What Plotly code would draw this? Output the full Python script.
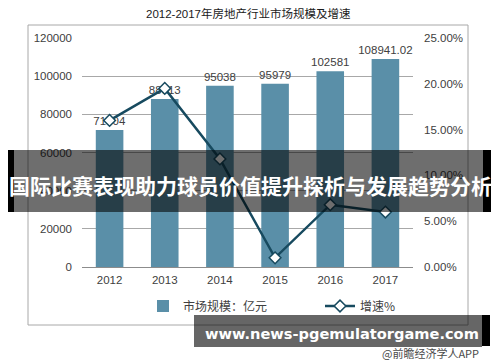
import plotly.graph_objects as go

# ---------------- data ----------------
years = ["2012", "2013", "2014", "2015", "2016", "2017"]
market_size = [71804, 88013, 95038, 95979, 102581, 108941.02]
market_labels = ["71804", "88013", "95038", "95979", "102581", "108941.02"]
growth_pct = [16.0, 19.5, 11.8, 1.0, 6.8, 6.0]
left_ticks = [0, 20000, 40000, 60000, 80000, 100000, 120000]
left_tick_labels = ["0", "20000", "40000", "60000", "80000", "100000", "120000"]
right_ticks = [0, 5, 10, 15, 20, 25]
right_tick_labels = ["0.00%", "5.00%", "10.00%", "15.00%", "20.00%", "25.00%"]

title_text = "2012-2017年房地产行业市场规模及增速"
bar_name = "市场规模：亿元"
line_name = "增速%"
banner_text = "国际比赛表现助力球员价值提升探析与发展趋势分析"
url_text = "www.news-pgemulatorgame.com"
source_text = "@前瞻经济学人APP"

# ---------------- geometry helpers ----------------
W, H = 500, 362
L, R, T, B = 82, 413, 38, 267  # plot area in pixels


def px(x):
    return (x - L) / (R - L)


def py(y):
    return (B - y) / (B - T)


FONT = "Liberation Sans, Arial, Noto Sans CJK SC, sans-serif"
TXT = "#404040"
BAR_C = "#5a8fa8"
LINE_C = "#174a5f"

fig = go.Figure()
fig.add_trace(go.Bar(
    x=years, y=market_size, name=bar_name,
    marker=dict(color=BAR_C, line=dict(width=0)),
    text=market_labels, textposition="outside",
    textfont=dict(size=11.5, color=TXT, family=FONT),
    constraintext="none",
    cliponaxis=False,
    legend="legend",
))
fig.add_trace(go.Scatter(
    x=years, y=growth_pct, name=line_name, yaxis="y2",
    mode="lines+markers",
    line=dict(color=LINE_C, width=2.5),
    marker=dict(symbol="diamond", size=9, color="white",
                line=dict(color=LINE_C, width=1.5)),
    cliponaxis=False,
    legend="legend2",
))

shapes = [
    # outer chart frame
    dict(type="rect", xref="paper", yref="paper",
         x0=px(28), x1=px(468), y0=py(325), y1=py(25),
         line=dict(color="#a8a8a8", width=1), fillcolor="rgba(0,0,0,0)",
         layer="below"),
    # banner overlay
    dict(type="rect", xref="paper", yref="paper",
         x0=px(14), x1=px(483), y0=py(212), y1=py(150),
         line=dict(width=0), fillcolor="rgba(0,0,0,0.57)", layer="above"),
    dict(type="rect", xref="paper", yref="paper",
         x0=px(8), x1=px(14), y0=py(212), y1=py(150),
         line=dict(width=0), fillcolor="black", layer="above"),
    dict(type="rect", xref="paper", yref="paper",
         x0=px(483), x1=px(491), y0=py(212), y1=py(150),
         line=dict(width=0), fillcolor="black", layer="above"),
    # url overlay
    dict(type="rect", xref="paper", yref="paper",
         x0=px(194), x1=px(482), y0=py(347), y1=py(315),
         line=dict(width=0), fillcolor="rgba(0,0,0,0.6)", layer="above"),
    dict(type="rect", xref="paper", yref="paper",
         x0=px(482), x1=px(490), y0=py(346), y1=py(315),
         line=dict(width=0), fillcolor="black", layer="above"),
]

annotations = [
    dict(text=title_text, x=px(248), y=py(14), xref="paper", yref="paper",
         showarrow=False, xanchor="center", yanchor="middle",
         font=dict(size=11.5, color="#1a1a1a", family=FONT)),
    dict(text=banner_text, x=px(250), y=py(185), xref="paper", yref="paper",
         showarrow=False, xanchor="center", yanchor="middle",
         font=dict(size=21, color="white", family="Noto Sans CJK SC", weight="bold")),
    dict(text=url_text, x=px(342), y=py(333), xref="paper", yref="paper",
         showarrow=False, xanchor="center", yanchor="middle",
         font=dict(size=14.6, color="white", family="DejaVu Sans", weight="bold")),
    dict(text=source_text, x=px(481), y=py(353), xref="paper", yref="paper",
         showarrow=False, xanchor="right", yanchor="middle",
         font=dict(size=11, color="#4a4a4a", family="Noto Sans CJK SC")),
]

legend_common = dict(orientation="h", yanchor="middle", y=py(306),
                     xanchor="left", bgcolor="rgba(0,0,0,0)", itemwidth=30,
                     font=dict(size=12, color=TXT, family="Noto Sans CJK SC"))

fig.update_layout(
    width=W, height=H,
    margin=dict(l=L, r=W - R, t=T, b=H - B, pad=0),
    paper_bgcolor="white", plot_bgcolor="white",
    font=dict(family=FONT, color=TXT, size=11),
    bargap=0.5,
    showlegend=True,
    legend=dict(x=px(143), **legend_common),
    legend2=dict(x=px(320), **legend_common),
    xaxis=dict(type="category", showgrid=False, showline=False, zeroline=False,
               ticks="", tickfont=dict(size=11.5, color=TXT), ticklabelstandoff=4),
    yaxis=dict(range=[0, 120000], tickvals=left_ticks, ticktext=left_tick_labels,
               showgrid=True, gridcolor="#a8a8a8", gridwidth=1, zeroline=True,
               zerolinecolor="#8c8c8c", zerolinewidth=1, showline=False,
               ticks="", tickfont=dict(size=11.5, color=TXT), ticklabelstandoff=9),
    yaxis2=dict(range=[0, 25], overlaying="y", side="right", tickvals=right_ticks,
                ticktext=right_tick_labels, showgrid=False, zeroline=False,
                showline=False, ticks="", tickfont=dict(size=11.5, color=TXT),
                ticklabelstandoff=10),
    shapes=shapes,
    annotations=annotations,
)

fig.write_html("out.html")
